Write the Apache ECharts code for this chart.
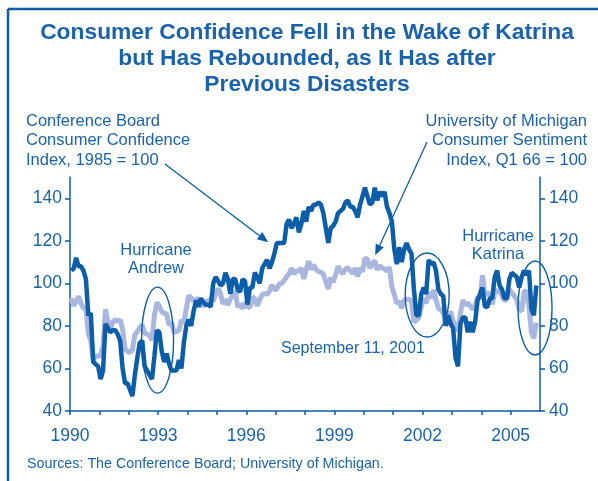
<!DOCTYPE html>
<html>
<head>
<meta charset="utf-8">
<script src="https://cdn.jsdelivr.net/npm/echarts@6/dist/echarts.min.js"></script>
<style>
html,body{margin:0;padding:0;background:#fff;}
#chart{width:598px;height:481px;}
</style>
</head>
<body>
<div id="chart"></div>
<script>
// ---- Data (monthly, starting January 1990, ending November 2005) ----
const startYear = 1990;
const cbValues = [
  106, 107, 112, 108, 108, 106, 102, 85, 86, 63, 62, 61,
  55, 59, 81, 79, 77, 78, 78, 76, 73, 60, 53, 53,
  50, 47, 57, 65, 72, 73, 61, 59, 57, 55, 66, 78,
  77, 68, 63, 67, 62, 59, 59, 59, 64, 60, 72, 80,
  83, 80, 87, 92, 89, 93, 91, 90, 90, 89, 100, 103,
  101, 99, 100, 105, 102, 95, 102, 102, 97, 96, 102, 101,
  90, 98, 98, 105, 103, 100, 107, 109, 111, 107, 110, 114,
  119, 119, 119, 119, 128, 130, 126, 128, 131, 124, 128, 134,
  129, 136, 134, 137, 137, 138, 137, 133, 126, 119, 126, 127,
  129, 133, 134, 135, 138, 139, 136, 136, 134, 131, 137, 141,
  145, 141, 137, 138, 145, 139, 143, 141, 143, 136, 133, 129,
  116, 109, 117, 110, 116, 119, 116, 114, 97, 85, 85, 95,
  98, 95, 111, 109, 110, 106, 97, 95, 94, 80, 85, 81,
  79, 65, 61, 81, 84, 84, 77, 82, 77, 82, 92, 95,
  98, 89, 89, 93, 93, 103, 106, 99, 97, 93, 93, 102,
  105, 104, 103, 98, 103, 106, 104, 106, 88, 85, 99
];
const umValues = [
  93.0, 89.5, 91.3, 93.9, 90.6, 88.3, 88.2, 76.4, 72.8, 63.9, 66.0, 65.5,
  66.8, 70.4, 87.7, 81.8, 78.3, 82.1, 82.9, 82.0, 83.0, 78.3, 69.1, 68.2,
  67.5, 68.8, 76.0, 77.2, 79.2, 80.4, 76.6, 76.1, 75.6, 73.3, 85.3, 91.0,
  89.3, 86.6, 85.9, 85.6, 80.3, 81.5, 77.0, 77.3, 77.9, 82.7, 81.2, 88.2,
  94.3, 93.2, 91.5, 92.6, 92.8, 91.2, 89.0, 91.7, 91.5, 92.7, 91.6, 95.1,
  97.6, 95.1, 90.3, 92.5, 89.8, 92.7, 94.4, 96.2, 88.9, 90.2, 88.2, 91.0,
  89.3, 88.5, 93.7, 92.7, 89.4, 92.4, 94.7, 95.3, 94.7, 96.5, 99.2, 96.9,
  97.4, 99.7, 100.0, 101.4, 103.2, 104.5, 107.1, 104.4, 106.0, 105.6, 107.2, 102.1,
  106.6, 110.4, 106.5, 108.7, 106.5, 105.6, 105.2, 104.4, 100.9, 97.4, 102.7, 100.5,
  103.9, 108.1, 105.7, 104.6, 106.8, 107.3, 106.0, 104.5, 107.2, 103.2, 107.2, 105.4,
  112.0, 111.3, 107.1, 109.2, 110.7, 106.4, 108.3, 107.3, 106.8, 105.8, 107.6, 98.4,
  94.7, 90.6, 91.5, 88.4, 92.0, 92.6, 92.4, 91.5, 81.8, 82.7, 83.9, 88.8,
  93.0, 90.7, 95.7, 93.0, 96.9, 92.4, 88.1, 87.6, 86.1, 80.6, 84.2, 86.7,
  82.4, 79.9, 77.6, 86.0, 92.1, 89.7, 90.9, 89.3, 87.7, 89.6, 93.7, 92.6,
  103.8, 94.4, 95.8, 94.2, 90.2, 95.6, 96.7, 95.9, 94.2, 91.7, 92.8, 97.1,
  95.5, 94.1, 92.6, 87.7, 86.9, 96.0, 96.5, 89.1, 76.9, 74.2, 81.6
];
const xTickYears = [1990,1991,1992,1993,1994,1995,1996,1997,1998,1999,2000,2001,2002,2003,2004,2005];
const xLabelYears = [1990, 1993, 1996, 1999, 2002, 2005];
const yTickValues = [40, 60, 80, 100, 120, 140];

// annotation anchors in data units [year, value]
const andrewEllipse = {center: [1992.98, 73.3], rx: 16, ry: 53};
const sept11Ellipse = {center: [2002.16, 94.5], rx: 22, ry: 42};
const katrinaEllipse = {center: [2005.83, 88.4], rx: 17, ry: 47};
const cbArrowTip = [1996.75, 119.3];
const umArrowTip = [2000.39, 113.2];

// ---- Styles ----
const BLUE = '#0d5ea8';
const TEXT = '#1a63ab';
const LIGHT = '#a9b6de';
const NARROW = '"Liberation Sans Narrow", "Liberation Sans", Arial, sans-serif';
const SANS = '"Liberation Sans", Arial, sans-serif';

function toPairs(vals) {
  return vals.map((v, i) => [startYear + (i + 0.5) / 12, v]);
}

const chart = echarts.init(document.getElementById('chart'), null, {renderer: 'canvas'});

const yAxisCommon = {
  type: 'value', min: 40, max: 150, interval: 10,
  axisLine: {show: true, lineStyle: {color: BLUE, width: 1.5}},
  axisTick: {show: true, length: 5, inside: false, customValues: yTickValues, lineStyle: {color: BLUE, width: 1.5}},
  axisLabel: {customValues: yTickValues, color: TEXT, fontFamily: NARROW, fontSize: 17.5},
  splitLine: {show: false}
};

chart.setOption({
  animation: false,
  backgroundColor: '#fff',
  grid: {left: 70, right: 58, top: 177, bottom: 70},
  xAxis: {
    type: 'value', min: 1990, max: 2006, interval: 1,
    axisLine: {show: true, onZero: false, lineStyle: {color: BLUE, width: 1.5}},
    axisTick: {show: true, length: 4, customValues: xTickYears, lineStyle: {color: BLUE, width: 1.5}},
    axisLabel: {customValues: xLabelYears, margin: 16, color: TEXT, fontFamily: NARROW, fontSize: 17.5,
                formatter: function (v) { return String(Math.round(v)); }},
    splitLine: {show: false}
  },
  yAxis: [
    Object.assign({}, yAxisCommon, {position: 'left', axisLabel: Object.assign({}, yAxisCommon.axisLabel, {margin: 8})}),
    Object.assign({}, yAxisCommon, {position: 'right', axisLabel: Object.assign({}, yAxisCommon.axisLabel, {margin: 9})})
  ],
  series: [
    {
      name: 'University of Michigan Consumer Sentiment',
      type: 'line', yAxisIndex: 1, data: toPairs(umValues),
      showSymbol: false, symbol: 'none', z: 2,
      lineStyle: {color: LIGHT, width: 5}
    },
    {
      name: 'Conference Board Consumer Confidence',
      type: 'line', yAxisIndex: 0, data: toPairs(cbValues),
      showSymbol: false, symbol: 'none', z: 3,
      lineStyle: {color: BLUE, width: 4.5}
    }
  ]
});

function px(pt) { return chart.convertToPixel({xAxisIndex: 0, yAxisIndex: 0}, pt); }

function arrow(from, tip) {
  const dx = tip[0] - from[0], dy = tip[1] - from[1];
  const len = Math.sqrt(dx * dx + dy * dy);
  const ux = dx / len, uy = dy / len;
  const hl = 11, hw = 4.5;
  const bx = tip[0] - ux * hl, by = tip[1] - uy * hl;
  return [
    {type: 'line', shape: {x1: from[0], y1: from[1], x2: bx, y2: by}, style: {stroke: BLUE, lineWidth: 1.3}, z: 10},
    {type: 'polygon', shape: {points: [tip, [bx - uy * hw, by + ux * hw], [bx + uy * hw, by - ux * hw]]}, style: {fill: BLUE}, z: 10}
  ];
}

function ellipse(e) {
  const c = px(e.center);
  return {type: 'ellipse', shape: {cx: c[0], cy: c[1], rx: e.rx, ry: e.ry}, style: {fill: 'none', stroke: BLUE, lineWidth: 1.4}, z: 10};
}

function txt(x, y, text, opts) {
  return {type: 'text', x: x, y: y, z: 11, style: Object.assign({
    text: text, fill: TEXT, fontFamily: SANS, fontSize: 16.5, align: 'left', verticalAlign: 'top'
  }, opts || {})};
}

const graphics = [
  // frame
  {type: 'line', shape: {x1: 8, y1: 9, x2: 598, y2: 9}, style: {stroke: BLUE, lineWidth: 2.5}},
  {type: 'line', shape: {x1: 8, y1: 9, x2: 8, y2: 481}, style: {stroke: BLUE, lineWidth: 2.5}},
  // title
  txt(307, 19.5, 'Consumer Confidence Fell in the Wake of Katrina\nbut Has Rebounded, as It Has after\nPrevious Disasters',
      {fontWeight: 'bold', fontSize: 22.8, lineHeight: 26, align: 'center'}),
  // series labels
  txt(26, 111.25, 'Conference Board\nConsumer Confidence\nIndex, 1985 = 100', {lineHeight: 19.5}),
  txt(587, 111.25, 'University of Michigan\nConsumer Sentiment\nIndex, Q1 66 = 100', {lineHeight: 19.5, align: 'right'}),
  // event labels
  txt(156, 241, 'Hurricane\nAndrew', {lineHeight: 18, align: 'center'}),
  txt(498, 227, 'Hurricane\nKatrina', {lineHeight: 18, align: 'center'}),
  txt(281, 349, 'September 11, 2001', {verticalAlign: 'middle', fontSize: 16}),
  // source
  txt(27, 464, 'Sources: The Conference Board; University of Michigan.', {verticalAlign: 'middle', fontSize: 14.3}),
  ellipse(andrewEllipse), ellipse(sept11Ellipse), ellipse(katrinaEllipse)
].concat(arrow([165, 164], px(cbArrowTip)), arrow([427, 142], px(umArrowTip)));

chart.setOption({graphic: graphics});
</script>
</body>
</html>
